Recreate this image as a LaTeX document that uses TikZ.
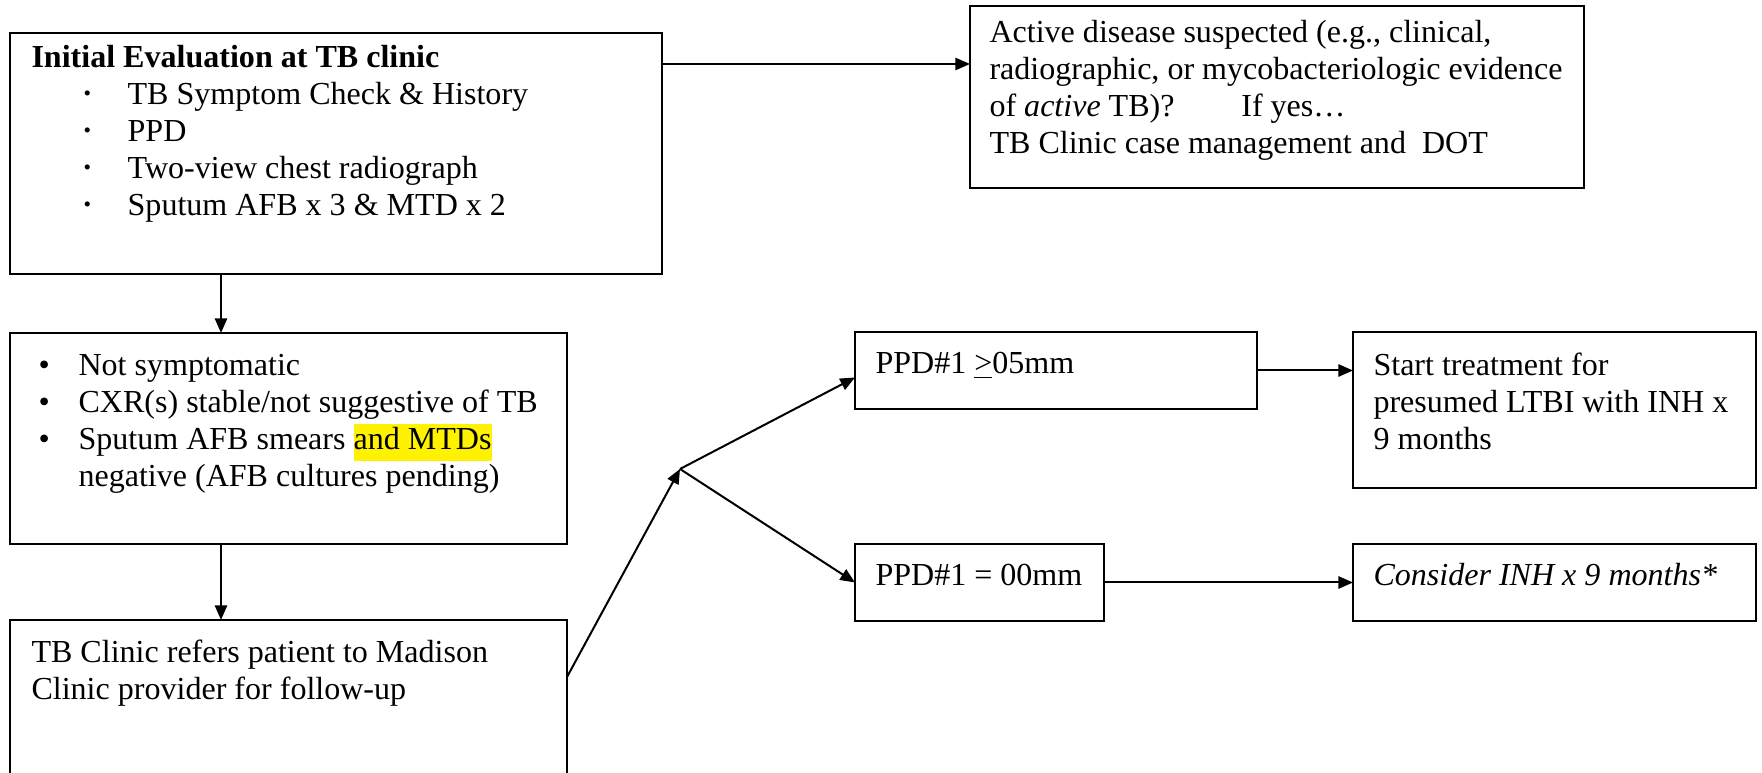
\documentclass[tikz,border=0pt]{standalone}
\usepackage{fontspec}
\setmainfont{Liberation Serif}
\usetikzlibrary{arrows.meta}
\def\U{0.3745pt}
\newcommand\boxat[5]{\node[box,minimum width={(#4-#2)*\U},minimum height={(#5-#3)*\U}] (#1) at (#2,#3) {};}
\newcommand\smallbul{\raisebox{1.6pt}{\fontsize{8}{8}\selectfont •}}
\newcommand\hlt[1]{{\setlength{\fboxsep}{0pt}\colorbox{yellow}{\strut #1}}}
\newcommand\lines[1]{\begin{tabular}[t]{@{}l@{}}#1\end{tabular}}
\begin{document}
\begin{tikzpicture}[x=0.3745pt,y=-0.3745pt,
  box/.style={draw, line width=0.7pt, rectangle, inner sep=0pt, outer sep=0pt, anchor=north west},
  txt/.style={anchor=base west, inner sep=0pt, font=\fontsize{12}{13.8}\selectfont},
  arr/.style={line width=0.75pt, -{Triangle[length=5.5pt,width=4.6pt]}}]
\useasboundingbox (0,0) rectangle (1762,773);
% boxes
\boxat{b1}{10}{33}{662}{274}
\boxat{b2}{970}{6}{1584}{188}
\boxat{b3}{10}{333}{567}{544}
\boxat{b4}{10}{620}{567}{790}
\boxat{b5}{855}{332}{1257}{409}
\boxat{b6}{855}{544}{1104}{621}
\boxat{b7}{1353}{332}{1756}{488}
\boxat{b8}{1353}{544}{1756}{621}
% texts
\node[txt] (t1) at (31,68) {\lines{\textbf{Initial Evaluation at TB clinic}\\
  \hspace*{19.5pt}\makebox[16.5pt][l]{\smallbul}TB Symptom Check \& History\\
  \hspace*{19.5pt}\makebox[16.5pt][l]{\smallbul}PPD\\
  \hspace*{19.5pt}\makebox[16.5pt][l]{\smallbul}Two-view chest radiograph\\
  \hspace*{19.5pt}\makebox[16.5pt][l]{\smallbul}Sputum AFB x 3 \& MTD x 2}};
\node[txt] (t2) at (989,43) {\lines{Active disease suspected (e.g., clinical,\\
  radiographic, or mycobacteriologic evidence\\
  of \textit{active} TB)?\hspace{25pt}If yes…\\
  TB Clinic case management and\ \ DOT}};
\node[txt] (t3) at (38,376) {\lines{\makebox[15pt][l]{•}Not symptomatic\\
  \makebox[15pt][l]{•}CXR(s) stable/not suggestive of TB\\
  \makebox[15pt][l]{•}Sputum AFB smears \hlt{and MTDs}\\
  \hspace*{15pt}negative (AFB cultures pending)}};
\node[txt] (t4) at (31,663) {\lines{TB Clinic refers patient to Madison\\
  Clinic provider for follow-up}};
\node[txt] (t5) at (875,374) {PPD\#1 \underline{>}05mm};
\node[txt] (t6) at (875,586) {PPD\#1 = 00mm};
\node[txt] (t7) at (1373,376) {\lines{Start treatment for\\
  presumed LTBI with INH x\\
  9 months}};
\node[txt] (t8) at (1373,586) {\textit{Consider INH x 9 months*}};
% connectors
\coordinate (p1) at (662,64);
\draw[arr] (p1) -- (p1 -| b2.west);
\coordinate (vx) at (221,0);
\draw[arr] (b1.south -| vx) -- (b3.north -| vx);
\draw[arr] (b3.south -| vx) -- (b4.north -| vx);
\coordinate (j) at (680,469);
\coordinate (p4) at (567,677);
\draw[arr] (p4) -- (j);
\draw[arr] (j) -- ([yshift=-7*\U]b5.west);
\draw[arr] (j) -- (b6.west);
\draw[arr] (b5.east) -- (b5.east -| b7.west);
\draw[arr] (b6.east) -- (b6.east -| b8.west);
\end{tikzpicture}
\end{document}
